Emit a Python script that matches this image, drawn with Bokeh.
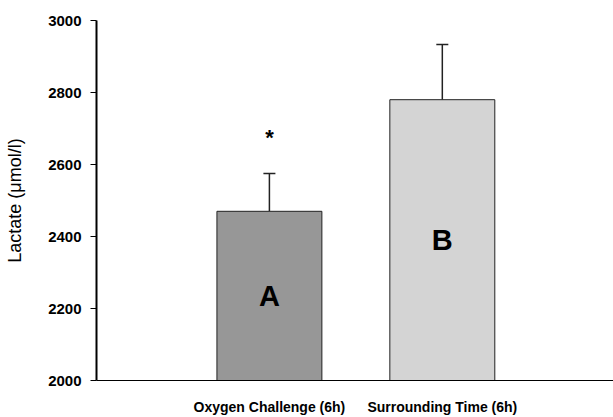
from bokeh.plotting import figure
from bokeh.models import Range1d, FixedTicker, Whisker, TeeHead, ColumnDataSource
from bokeh.core.properties import value
from bokeh.embed import file_html
from bokeh.resources import INLINE

categories = ["Oxygen Challenge (6h)", "Surrounding Time (6h)"]
means = [2470, 2780]
errors = [105, 153]
bar_letters = ["A", "B"]
significance = ["*", ""]
bar_colors = ["#979797", "#d4d4d4"]
y_ticks = [2000, 2200, 2400, 2600, 2800, 3000]

FONT = "Liberation Sans"
xs = [i + 1 for i in range(len(categories))]
y0 = y_ticks[0]

src = ColumnDataSource(dict(
    x=xs, top=means, upper=[m + e for m, e in zip(means, errors)],
    mid=[(y0 + m) / 2 for m in means], letter=bar_letters, sig=significance,
    color=bar_colors,
))

p = figure(width=613, height=417, output_backend="svg", toolbar_location=None,
           x_range=Range1d(0, 2.99), y_range=Range1d(y_ticks[0], y_ticks[-1]),
           min_border_left=96, min_border_right=0, min_border_top=20, min_border_bottom=37)
p.outline_line_color = None
p.xgrid.visible = False
p.ygrid.visible = False

p.vbar(x="x", top="top", bottom=y0, width=0.607, source=src,
       fill_color="color", line_color="#222222", line_width=1)

w = Whisker(source=src, base="x", lower="top", upper="upper",
            lower_head=None, upper_head=TeeHead(size=12, line_color="#222222", line_width=1.5),
            line_color="#222222", line_width=1.5)
p.add_layout(w)

p.text(x="x", y="mid", text="letter", source=src, text_align="center",
       text_baseline="middle", text_font=value(FONT), text_font_style="bold",
       text_font_size="29px", text_color="black")
p.text(x="x", y="upper", text="sig", source=src, text_align="center",
       text_baseline="middle", y_offset=-36, text_font=value(FONT),
       text_font_style="bold", text_font_size="22px", text_color="black")

# y axis
ya = p.yaxis[0]
ya.ticker = FixedTicker(ticks=y_ticks)
ya.minor_tick_line_color = None
ya.major_tick_in = 0
ya.major_tick_out = 6
ya.major_tick_line_color = "black"
ya.axis_line_width = 2
ya.axis_line_color = "black"
ya.major_label_standoff = 9
ya.major_label_text_font = FONT
ya.major_label_text_font_style = "bold"
ya.major_label_text_font_size = "15px"
ya.major_label_text_color = "black"
ya.axis_label = "Lactate (\u03bcmol/l)"
ya.axis_label_text_font = FONT
ya.axis_label_text_font_style = "normal"
ya.axis_label_text_font_size = "18px"
ya.axis_label_text_color = "black"
ya.axis_label_standoff = 20

# x axis
xa = p.xaxis[0]
xa.ticker = FixedTicker(ticks=xs)
xa.major_label_overrides = {x: c for x, c in zip(xs, categories)}
xa.minor_tick_line_color = None
xa.major_tick_line_color = None
xa.major_tick_out = 0
xa.major_tick_in = 0
xa.major_label_standoff = 18
xa.major_label_text_font = FONT
xa.major_label_text_font_style = "bold"
xa.major_label_text_font_size = "14px"
xa.major_label_text_color = "black"
xa.axis_line_color = "black"
xa.axis_line_width = 1

open("out.html", "w").write(file_html(p, INLINE))
